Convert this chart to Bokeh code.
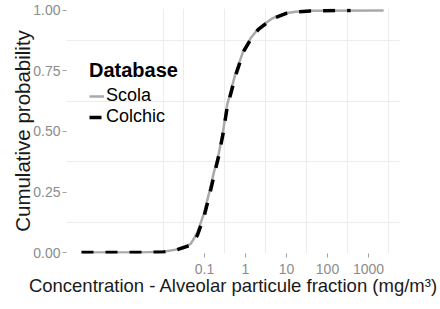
from bokeh.plotting import figure
from bokeh.models import Legend, LegendItem, FixedTicker, Range1d, CustomJSTickFormatter, NumeralTickFormatter
from bokeh.embed import file_html
from bokeh.resources import INLINE

# ---- data ----
conc_scola = [0.0001, 0.003, 0.01, 0.02, 0.0456, 0.0664, 0.0961, 0.127, 0.169, 0.223,
              0.283, 0.357, 0.57, 0.894, 1.33, 2.07, 4.47, 9.47, 16.7, 38.6, 2340]
prob_scola = [0.0, 0.0, 0.003, 0.012, 0.035, 0.08, 0.16, 0.24, 0.33, 0.41,
              0.50, 0.61, 0.74, 0.835, 0.885, 0.926, 0.967, 0.988, 0.995, 0.999, 1.0]
conc_colchic = [0.0001, 0.003, 0.01, 0.02, 0.0456, 0.0664, 0.0961, 0.127, 0.169, 0.223,
                0.283, 0.357, 0.57, 0.894, 1.33, 2.07, 4.47, 9.47, 16.7, 38.6, 366]
prob_colchic = [0.0, 0.0, 0.002, 0.01, 0.03, 0.07, 0.145, 0.225, 0.315, 0.40,
                0.49, 0.60, 0.73, 0.83, 0.88, 0.922, 0.965, 0.987, 0.994, 0.998, 1.0]
series_names = ["Scola", "Colchic"]
legend_title = "Database"
x_ticks = [0.1, 1, 10, 100, 1000]
y_ticks = [0.0, 0.25, 0.5, 0.75, 1.0]
x_grid = [0.01, 0.03, 0.3, 3, 30, 300, 3000]
y_grid = [0.125, 0.375, 0.625, 0.875]
x_title = "Concentration - Alveolar particule fraction (mg/m³)"
y_title = "Cumulative probability"

FONT = "Liberation Sans"

p = figure(width=440, height=309, x_axis_type="log",
           x_range=Range1d(10 ** -4.366, 10 ** 3.78), y_range=Range1d(-0.004, 1.008),
           output_backend="svg", toolbar_location=None,
           min_border_left=66, min_border_right=40, min_border_top=8, min_border_bottom=56)
p.outline_line_color = None
p.background_fill_color = "white"
p.border_fill_color = "white"

r1 = p.line(conc_scola, prob_scola, line_color="#a9a9a9", line_width=2.5)
r2 = p.line(conc_colchic, prob_colchic, line_color="black", line_width=3.5, line_dash="12 12")

# grids
p.xgrid.ticker = FixedTicker(ticks=x_grid)
p.ygrid.ticker = FixedTicker(ticks=y_grid)
for g in (p.xgrid[0], p.ygrid[0]):
    g.grid_line_color = "#ececec"
    g.grid_line_width = 1

# axes
xa = p.xaxis[0]
ya = p.yaxis[0]
xa.ticker = FixedTicker(ticks=x_ticks)
ya.ticker = FixedTicker(ticks=y_ticks)
xa.formatter = CustomJSTickFormatter(code="return String(tick);")
ya.formatter = NumeralTickFormatter(format="0.00")
for ax in (xa, ya):
    ax.axis_line_color = None
    ax.major_tick_in = 0
    ax.major_tick_out = 4
    ax.major_tick_line_color = "#a0a0a0"
    ax.minor_tick_line_color = None
    ax.major_label_text_color = "#8c8c8c"
    ax.major_label_text_font = FONT
    ax.major_label_text_font_size = "14px"
    ax.axis_label_text_font = FONT
    ax.axis_label_text_font_style = "normal"
    ax.axis_label_text_color = "#1a1a1a"
xa.major_label_standoff = 6
ya.major_label_standoff = 2
xa.axis_label = x_title
ya.axis_label = y_title
xa.axis_label_text_font_size = "18.5px"
ya.axis_label_text_font_size = "20.5px"
xa.axis_label_standoff = -2
ya.axis_label_standoff = -4

legend = Legend(items=[LegendItem(label=series_names[0], renderers=[r1]),
                       LegendItem(label=series_names[1], renderers=[r2])],
                title=legend_title, location=(23, 126))
legend.title_text_font = FONT
legend.title_text_font_style = "bold"
legend.title_text_font_size = "20px"
legend.title_text_color = "black"
legend.title_standoff = 3
legend.label_text_font = FONT
legend.label_text_font_size = "18px"
legend.label_text_color = "black"
legend.label_standoff = 2
legend.label_height = 20
legend.glyph_width = 15
legend.glyph_height = 20
legend.spacing = 0
legend.padding = 0
legend.margin = 0
legend.border_line_color = None
legend.background_fill_alpha = 0
p.add_layout(legend)

open("out.html", "w").write(file_html(p, INLINE))
